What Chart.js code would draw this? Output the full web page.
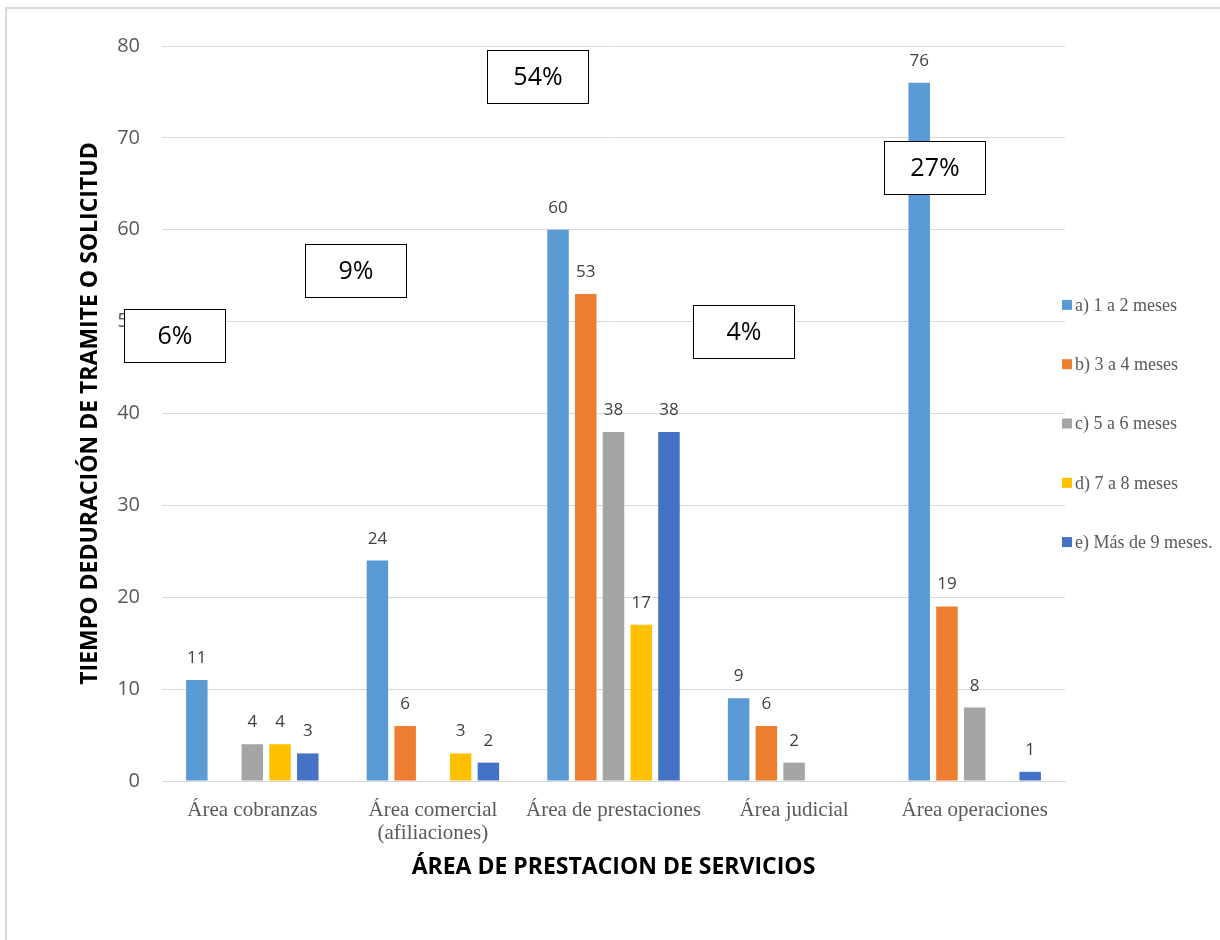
<!DOCTYPE html>
<html>
<head>
<meta charset="utf-8">
<script src="https://cdn.jsdelivr.net/npm/chart.js@4.4.1/dist/chart.umd.min.js"></script>
<style>
  html, body { margin: 0; padding: 0; background: #fff; }
</style>
</head>
<body>
<canvas id="chart" width="1220" height="940"></canvas>
<script>
var areas = ["Área cobranzas", ["Área comercial", "(afiliaciones)"], "Área de prestaciones", "Área judicial", "Área operaciones"];
var seriesNames = ["a) 1 a 2 meses", "b) 3 a 4 meses", "c) 5 a 6 meses", "d) 7 a 8 meses", "e) Más de 9 meses."];
var meses1a2 = [11, 24, 60, 9, 76];
var meses3a4 = [null, 6, 53, 6, 19];
var meses5a6 = [4, null, 38, 2, 8];
var meses7a8 = [4, 3, 17, null, null];
var mas9meses = [3, 2, 38, null, 1];
var seriesColors = ["#5B9BD5", "#ED7D31", "#A5A5A5", "#FFC000", "#4472C4"];
var porcentajes = ["6%", "9%", "54%", "4%", "27%"];

// where each percentage box sits, in category index / value units
var boxPos = [
  { x: -0.43, y: 48.5 },
  { x: 0.57, y: 55.6 },
  { x: 1.58, y: 76.7 },
  { x: 2.72, y: 48.9 },
  { x: 3.78, y: 66.8 }
];

var sansFont = "'Open Sans', 'Noto Sans', sans-serif";
var serifFont = "'Liberation Serif', 'Times New Roman', serif";

var allSeries = [meses1a2, meses3a4, meses5a6, meses7a8, mas9meses];
var datasets = allSeries.map(function (vals, i) {
  return {
    label: seriesNames[i],
    data: vals,
    backgroundColor: seriesColors[i],
    borderWidth: 0,
    categoryPercentage: 0.768,
    barPercentage: 0.775
  };
});

var pageFrame = {
  id: "pageFrame",
  beforeDraw: function (chart) {
    var ctx = chart.ctx;
    ctx.save();
    ctx.fillStyle = "#fff";
    ctx.fillRect(0, 0, chart.width, chart.height);
    ctx.strokeStyle = "#d9d9d9";
    ctx.lineWidth = 2;
    ctx.strokeRect(6, 8, chart.width + 10, chart.height + 10);
    ctx.restore();
  }
};

var valueLabels = {
  id: "valueLabels",
  afterDatasetsDraw: function (chart) {
    var ctx = chart.ctx;
    ctx.save();
    ctx.font = "17px " + sansFont;
    ctx.fillStyle = "#404040";
    ctx.textAlign = "center";
    ctx.textBaseline = "alphabetic";
    chart.data.datasets.forEach(function (ds, i) {
      var meta = chart.getDatasetMeta(i);
      meta.data.forEach(function (bar, j) {
        var v = ds.data[j];
        if (v === null || v === undefined) return;
        ctx.fillText(String(v), bar.x, bar.y - 17);
      });
    });
    ctx.restore();
  }
};

var sideLegend = {
  id: "sideLegend",
  afterDraw: function (chart) {
    var ctx = chart.ctx;
    var area = chart.chartArea;
    var x0 = area.right - 3;
    var yMid = (area.top + area.bottom) / 2 + 10;
    var step = 59.3;
    var n = chart.data.datasets.length;
    ctx.save();
    ctx.font = "18px " + serifFont;
    ctx.textBaseline = "middle";
    ctx.textAlign = "left";
    chart.data.datasets.forEach(function (ds, i) {
      var y = yMid + (i - (n - 1) / 2) * step;
      ctx.fillStyle = ds.backgroundColor;
      ctx.fillRect(x0, y - 5, 10, 10);
      ctx.fillStyle = "#595959";
      ctx.fillText(ds.label, x0 + 13, y + 1);
    });
    ctx.restore();
  }
};

var percentBoxes = {
  id: "percentBoxes",
  afterDraw: function (chart) {
    var ctx = chart.ctx;
    var xs = chart.scales.x, ys = chart.scales.y;
    var w = 101, h = 53;
    ctx.save();
    ctx.font = "25px " + sansFont;
    ctx.textAlign = "center";
    ctx.textBaseline = "middle";
    porcentajes.forEach(function (txt, i) {
      var cx = xs.getPixelForValue(0) + boxPos[i].x * (xs.getPixelForValue(1) - xs.getPixelForValue(0));
      var cy = ys.getPixelForValue(boxPos[i].y);
      var l = Math.round(cx - w / 2) + 0.5, t = Math.round(cy - h / 2) + 0.5;
      ctx.fillStyle = "#fff";
      ctx.fillRect(l, t, w, h);
      ctx.strokeStyle = "#000";
      ctx.lineWidth = 1;
      ctx.strokeRect(l, t, w, h);
      ctx.fillStyle = "#000";
      ctx.fillText(txt, l + w / 2, t + h / 2 + 1);
    });
    ctx.restore();
  }
};

new Chart(document.getElementById("chart"), {
  type: "bar",
  data: { labels: areas, datasets: datasets },
  plugins: [pageFrame, valueLabels, sideLegend, percentBoxes],
  options: {
    responsive: false,
    animation: false,
    layout: { padding: { left: 75, top: 46, right: 155, bottom: 0 } },
    plugins: {
      legend: { display: false },
      tooltip: { enabled: false }
    },
    scales: {
      x: {
        grid: { display: false },
        border: { display: true, color: "#d9d9d9" },
        ticks: {
          color: "#595959",
          font: { family: serifFont, size: 21, lineHeight: 1.1 },
          padding: 10,
          maxRotation: 0,
          autoSkip: false
        },
        title: {
          display: true,
          text: "ÁREA DE PRESTACION DE SERVICIOS",
          color: "#000",
          font: { family: sansFont, size: 23, weight: "bold", lineHeight: 1.2 },
          padding: { top: 0, bottom: 59 }
        },
        afterFit: function (scale) { scale.height = 159; }
      },
      y: {
        min: 0,
        max: 80,
        ticks: {
          stepSize: 10,
          color: "#595959",
          font: { family: sansFont, size: 20 },
          padding: 22
        },
        grid: { color: "#d9d9d9", lineWidth: 1, drawTicks: false },
        border: { display: false },
        title: {
          display: true,
          text: "TIEMPO DEDURACIÓN DE TRAMITE O SOLICITUD",
          color: "#000",
          font: { family: sansFont, size: 23, weight: "bold", lineHeight: 1.2 },
          padding: { top: 2, bottom: 0 }
        },
        afterFit: function (scale) { scale.width = 87; }
      }
    }
  }
});
</script>
</body>
</html>
